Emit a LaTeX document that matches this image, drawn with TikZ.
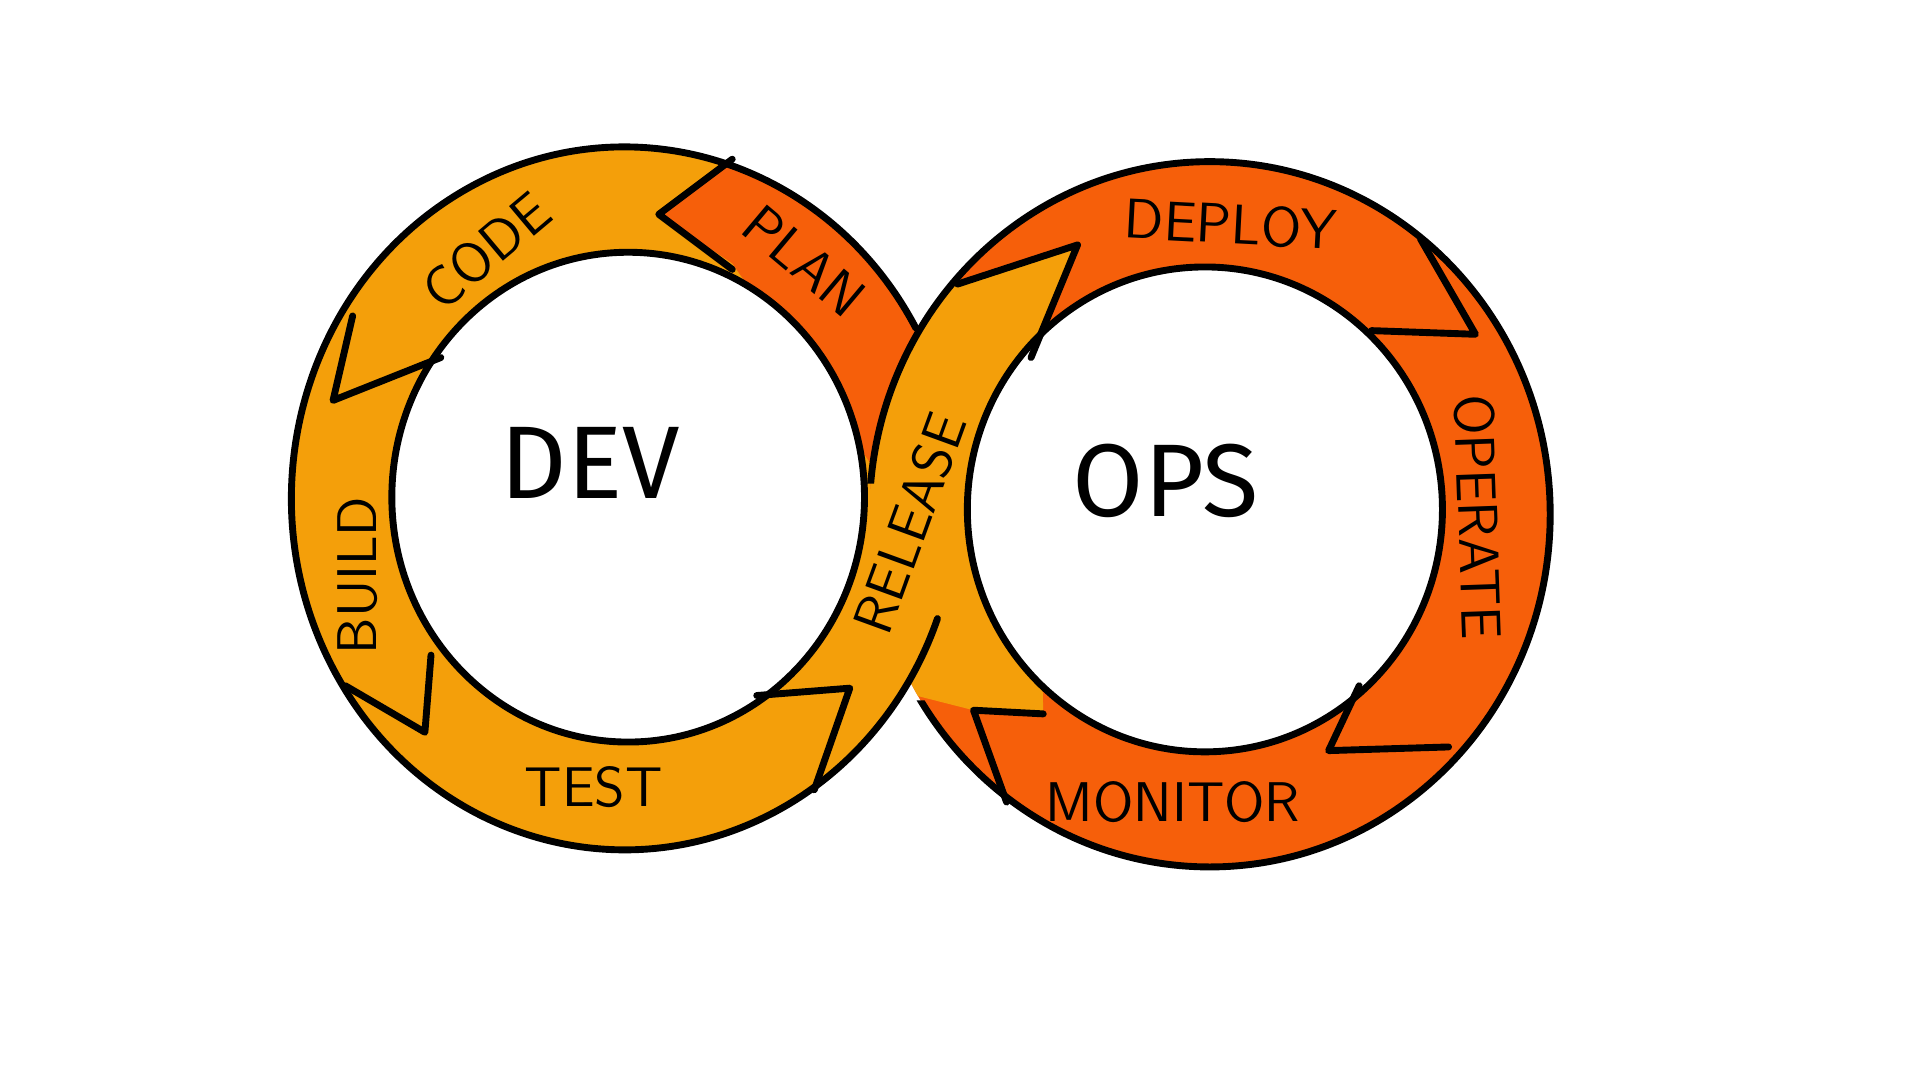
\documentclass[tikz,border=0pt]{standalone}
\usepackage{fontspec}
\setmainfont{Fira Sans}
\definecolor{devorange}{HTML}{F49F0A}
\definecolor{opsred}{HTML}{F65F0A}
\tikzset{
  edge/.style={line width=1.6pt, line join=round, line cap=round},
  stage/.style={font=\fontsize{13}{13}\selectfont\sffamily, inner sep=0pt},
  hub/.style={font=\fontsize{24}{24}\selectfont, inner sep=0pt}
}
\begin{document}
\begin{tikzpicture}[x=0.1mm, y=-0.1mm]
\useasboundingbox (0,0) rectangle (1568,882);
% rings
\fill[devorange] (510,407) ellipse [x radius=2.72cm, y radius=2.87cm];
\begin{scope}
  \clip (510,407) ellipse [x radius=2.72cm, y radius=2.87cm];
  \fill[opsred] (598,130) -- (538,175) -- (598,215) -- (712,380) -- (758,262) -- (790,220) -- (790,0) -- (598,0) -- cycle;
\end{scope}
\fill[opsred] (988,420) ellipse [x radius=2.78cm, y radius=2.88cm];
\begin{scope}
  \clip (988,420) ellipse [x radius=2.78cm, y radius=2.88cm];
  \fill[devorange] (782,232) -- (880,200) -- (845,290) -- (852,583) -- (795,580) -- (740,566) -- (665,645) -- (694,562) -- (602,568) -- (650,450) -- (700,380) -- (740,262) -- (770,180) -- cycle;
\end{scope}
\begin{scope}
  \clip (510,407) ellipse [x radius=2.72cm, y radius=2.87cm];
  \fill[devorange] (852,583) -- (795,580) -- (740,566) -- (665,645) -- (694,562) -- (602,568) -- (650,450) -- (705,400) -- (852,400) -- cycle;
\end{scope}
\filldraw[fill=white, edge] (513,406) ellipse [x radius=1.93cm, y radius=2.0cm];
\filldraw[fill=white, edge] (984,416) ellipse [x radius=1.94cm, y radius=1.98cm];
% outlines
\draw[edge] (510,407) ++(29:2.72cm and 2.87cm) arc[start angle=29, end angle=340, x radius=2.72cm, y radius=2.87cm];
\begin{scope}
  \clip (0,0) -- (1568,0) -- (1568,882) -- (0,882) -- (0,572) -- (800,572) -- (800,395) -- (0,395) -- cycle;
  \draw[edge] (988,420) ellipse [x radius=2.78cm, y radius=2.88cm];
\end{scope}
% chevrons
\draw[edge] (598,130) -- (538,175) -- (598,220);
\draw[edge] (288,258) -- (272,327) -- (360,292);
\draw[edge] (282,560) -- (347,598) -- (352,535);
\draw[edge] (618,568) -- (694,562) -- (665,645);
\draw[edge] (782,232) -- (880,200) -- (842,292);
\draw[edge] (1160,195) -- (1205,273) -- (1120,270);
\draw[edge] (1110,560) -- (1085,613) -- (1183,610);
\draw[edge] (852,583) -- (795,580) -- (822,655);
% labels
\node[hub] (dev) at (482,378) {DEV};
\node[hub] (ops) at (952,393) {OPS};
\node[stage, rotate=40] (code) at (397,205) {CODE};
\node[stage, rotate=-40] (plan) at (657,213) {PLAN};
\node[stage, rotate=90] (build) at (292,470) {BUILD};
\node[stage] (test) at (485,643) {TEST};
\node[stage, rotate=70] (release) at (743,427) {RELEASE};
\node[stage, rotate=-3] (deploy) at (1005,183) {DEPLOY};
\node[stage, rotate=-88] (operate) at (1207,422) {OPERATE};
\node[stage] (monitor) at (958,655) {MONITOR};
\end{tikzpicture}
\end{document}
